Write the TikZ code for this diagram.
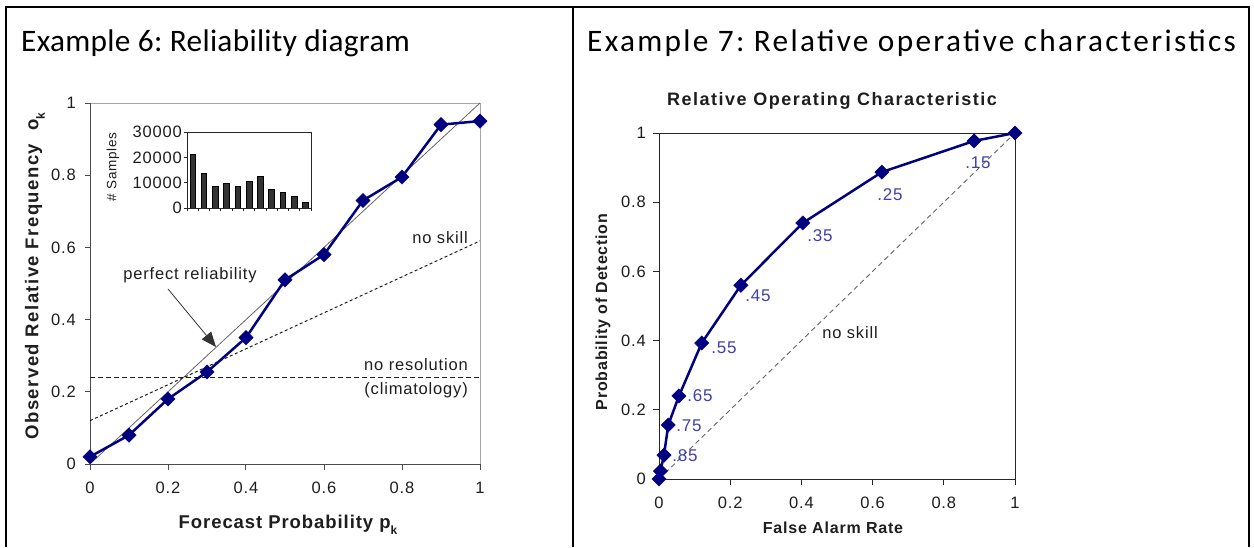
\documentclass[tikz,border=0pt]{standalone}
\usepackage{fontspec}
\setmainfont{Carlito}
\newfontfamily\plotfont[LetterSpace=5]{Liberation Sans}
\usetikzlibrary{arrows.meta,shapes.geometric}
\definecolor{navy}{HTML}{000080}
\definecolor{lblblue}{HTML}{4040B0}
\definecolor{ink}{HTML}{1E1E1E}
\tikzset{
  heading/.style={font=\fontsize{31.3}{36}\selectfont, inner sep=0pt, anchor=base west},
  ticklbl/.style={font=\plotfont\fontsize{16.5}{19}\selectfont, text=ink, inner sep=0pt},
  annot/.style={font=\plotfont\fontsize{16.5}{19}\selectfont, text=ink, inner sep=0pt},
  axtitle/.style={font=\plotfont\bfseries\fontsize{18.5}{21}\selectfont, text=ink, inner sep=0pt},
  axtitlesm/.style={font=\plotfont\bfseries\fontsize{16}{18}\selectfont, text=ink, inner sep=0pt},
  roclbl/.style={font=\plotfont\fontsize{17}{19}\selectfont, text=lblblue, inner sep=0pt},
  marker/.style={diamond, fill=navy, draw=navy, inner sep=0pt, minimum size=14.5pt},
  curve/.style={navy, line width=2.5pt, line join=round},
  axisline/.style={draw=black!70, line width=1pt},
  lightframe/.style={draw=black!35, line width=1pt},
  rule/.style={line width=2pt, black},
  bar/.style={fill=black!80, draw=black, line width=0.5pt}
}
\newcommand{\subk}{\raisebox{-0.35em}{\fontsize{12}{12}\selectfont k}}
\frenchspacing
\begin{document}
\begin{tikzpicture}[x=1pt,y=-1pt]
\useasboundingbox (0,0) rectangle (1254,547);
\fill[white] (0,0) rectangle (1254,547);

% table rules
\draw[rule] (5,7) -- (1250,7);
\draw[rule] (5.5,6) -- (5.5,547);
\draw[rule] (573,6) -- (573,547);
\draw[rule] (1249,6) -- (1249,547);

% cell headings
\node[heading] (head6) at (21,51) {\addfontfeatures{LetterSpace=1}Example 6: Reliability diagram};
\node[heading] (head7) at (587,51) {\addfontfeatures{LetterSpace=7.4}Example 7: Relative operative characteristics};

% ---------------- reliability diagram ----------------
\begin{scope}[shift={(90,464)}, x=390pt, y=361pt]
  \draw[lightframe] (0,1) -- (1,1) -- (1,0);
  \draw[axisline] (0,1) -- (0,0) -- (1,0);
  \foreach \v/\t [count=\i] in {0/0,0.2/0.2,0.4/0.4,0.6/0.6,0.8/0.8,1/1} {
    \draw[axisline] (0,\v) -- ++(-5pt,0pt);
    \node[ticklbl, anchor=east] (ry\i) at ([xshift=-14pt]0,\v) {\t};
    \draw[axisline] (\v,0) -- ++(0pt,-6pt);
    \node[ticklbl] (rx\i) at ([yshift=-24pt]\v,0) {\t};
  }
  % perfect reliability, no skill and climatology lines
  \draw[black!60, line width=0.8pt] (0,0) -- (1,1);
  \draw[ink, line width=1pt, dash pattern=on 3pt off 2.5pt] (0,0.12) -- (1,0.618);
  \draw[ink, line width=1pt, dash pattern=on 5pt off 3pt] (0,0.241) -- (1,0.241);
  % observed frequencies
  \foreach \x/\y [count=\i from 0] in {0/0.02,0.1/0.08,0.2/0.18,0.3/0.255,0.4/0.35,0.5/0.51,0.6/0.58,0.7/0.73,0.8/0.795,0.9/0.94,1/0.95}
    \coordinate (rc\i) at (\x,\y);
  \draw[curve] (rc0) -- (rc1) -- (rc2) -- (rc3) -- (rc4) -- (rc5) -- (rc6) -- (rc7) -- (rc8) -- (rc9) -- (rc10);
  \foreach \i in {0,...,10} \node[marker] (rm\i) at (rc\i) {};
\end{scope}

% annotations
\node[annot] (perf) at (190,275) {perfect reliability};
\coordinate (perftail) at (168,289);
\coordinate (perftip) at (216,347);
\draw[black!80, line width=0.8pt, -{Triangle[length=15pt,width=12pt]}] (perftail) -- (perftip);
\node[annot, anchor=east] (noskillL) at (468,238) {no skill};
\node[annot, anchor=east] (nores) at (468,365) {no resolution};
\node[annot, anchor=east] (clim) at (468,390) {(climatology)};

% axis titles
\node[axtitle, rotate=90] (ytitleL) at (35,276) {\addfontfeatures{LetterSpace=8}Observed Relative Frequency\ \ o\subk};
\node[axtitle] (xtitleL) at (288,525) {Forecast Probability p\subk};

% sample-count inset
\begin{scope}[shift={(187,208)}, x=11.2727pt, y=2.5333pt]
  \foreach \v [count=\i from 0] in {21.2,13.8,8.6,9.9,8.6,10.5,12.6,7.4,6.3,4.6,2.4}
    \draw[bar] (\i+0.25,0) rectangle (\i+0.75,\v);
  \draw[black!85, line width=0.9pt] (0,0) rectangle (11,30);
  \foreach \i in {0,...,11} \draw[black!85, line width=0.8pt] (\i,0) -- ++(0pt,-3pt);
  \foreach \v/\t [count=\i] in {0/0,10/10000,20/20000,30/30000} {
    \draw[black!85, line width=0.8pt] (0,\v) -- ++(-3pt,0pt);
    \node[ticklbl, anchor=east] (iy\i) at ([xshift=-5pt]0,\v) {\t};
  }
\end{scope}
\node[font=\plotfont\fontsize{13.5}{15}\selectfont, text=ink, inner sep=0pt, rotate=90] (samples) at (113,167) {\# Samples};

% ---------------- ROC diagram ----------------
\node[axtitle, font=\plotfont\bfseries\fontsize{18}{20}\selectfont] (roctitle) at (832,101) {\addfontfeatures{LetterSpace=8.5}Relative Operating Characteristic};
\begin{scope}[shift={(659,479)}, x=356pt, y=346pt]
  \draw[black!85, line width=1pt] (0,0) rectangle (1,1);
  \foreach \v/\t [count=\i] in {0/0,0.2/0.2,0.4/0.4,0.6/0.6,0.8/0.8,1/1} {
    \draw[black!85, line width=1pt] (0,\v) -- ++(-6pt,0pt);
    \node[ticklbl, anchor=east] (oy\i) at ([xshift=-13pt]0,\v) {\t};
    \draw[black!85, line width=1pt] (\v,0) -- ++(0pt,-6pt);
    \node[ticklbl] (ox\i) at ([yshift=-24pt]\v,0) {\t};
  }
  \draw[black!60, line width=0.9pt, dash pattern=on 5pt off 3.5pt] (0,0) -- (1,1);
  \foreach \x/\y [count=\i from 0] in {0/0,0.004/0.023,0.014/0.069,0.026/0.156,0.056/0.24,0.12/0.393,0.23/0.56,0.404/0.74,0.626/0.887,0.885/0.977,1/1}
    \coordinate (oc\i) at (\x,\y);
  \draw[curve] (oc0) -- (oc1) -- (oc2) -- (oc3) -- (oc4) -- (oc5) -- (oc6) -- (oc7) -- (oc8) -- (oc9) -- (oc10);
  \foreach \i in {0,...,10} \node[marker] (om\i) at (oc\i) {};
\end{scope}

% probability thresholds
\node[roclbl] (t15) at (978,163) {.15};
\node[roclbl] (t25) at (890,195) {.25};
\node[roclbl] (t35) at (820,236) {.35};
\node[roclbl] (t45) at (758,296) {.45};
\node[roclbl] (t55) at (724,348) {.55};
\node[roclbl] (t65) at (700,396) {.65};
\node[roclbl] (t75) at (689,426) {.75};
\node[roclbl] (t85) at (685,456) {.85};
\node[annot] (noskillR) at (850,333) {no skill};

\node[axtitlesm, rotate=90] (ytitleR) at (603,312) {Probability of Detection};
\node[axtitlesm] (xtitleR) at (833,528) {False Alarm Rate};
\end{tikzpicture}
\end{document}
